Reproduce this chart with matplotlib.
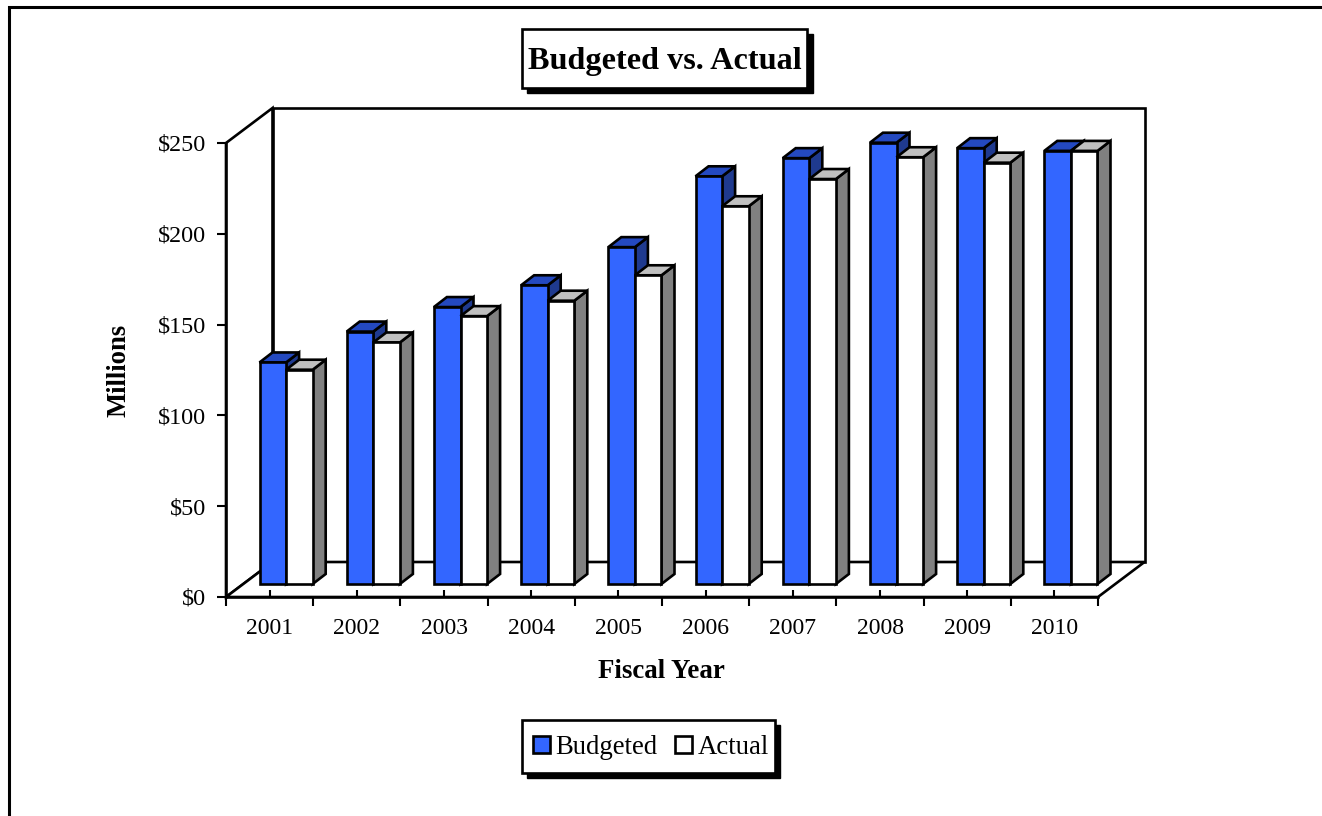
import matplotlib
matplotlib.use("Agg")
import matplotlib.pyplot as plt
from matplotlib.lines import Line2D
from matplotlib.patches import Polygon, Rectangle
from matplotlib.ticker import FixedLocator, FixedFormatter, NullFormatter

years = ["2001", "2002", "2003", "2004", "2005", "2006", "2007", "2008", "2009", "2010"]
budgeted = [122, 139, 152.5, 164.5, 185.5, 224.5, 234.5, 243, 240, 238.5]
actual = [118, 133, 147.5, 156, 170, 208, 223, 235, 232, 238.5]
value_ticks = [0, 50, 100, 150, 200, 250]
value_labels = ["$0", "$50", "$100", "$150", "$200", "$250"]

W, H = 1322, 816
plt.rcParams["font.family"] = ["Liberation Serif", "DejaVu Serif"]
fig = plt.figure(figsize=(W / 100, H / 100), dpi=100, facecolor="white")


def frac_box(x0, y0, x1, y1):
    """Pixel box (y measured from the top) to figure fractions."""
    return [x0 / W, 1 - y1 / H, (x1 - x0) / W, (y1 - y0) / H]


# Front plane of the oblique box is the real axes.
LEFT, RIGHT, TOP, BOTTOM = 226, 1098, 143, 597
ax = fig.add_axes(frac_box(LEFT, TOP, RIGHT, BOTTOM))
ax.set_xlim(0, len(years))
ax.set_ylim(0, 250)
ax.patch.set_visible(False)
for side in ("top", "right"):
    ax.spines[side].set_visible(False)
for side in ("left", "bottom"):
    ax.spines[side].set_linewidth(1.8)

PX = len(years) / (RIGHT - LEFT)
PY = 250 / (BOTTOM - TOP)
LW = 1.9


def project(x, y, dx_px, dy_px):
    """Shift a data point by a screen offset, giving the oblique depth."""
    return (x + dx_px * PX, y + dy_px * PY)


def poly(points, face, z, lw=LW):
    ax.add_patch(Polygon(points, closed=True, facecolor=face, edgecolor="black",
                         linewidth=lw, joinstyle="miter", zorder=z, clip_on=False))


# Wall and floor of the box
DEPTH_X, DEPTH_Y = 46.5, 35
n = len(years)
poly([(0, 0), (0, 250), project(0, 250, DEPTH_X, DEPTH_Y), project(0, 0, DEPTH_X, DEPTH_Y)], "white", 1)
poly([project(0, 0, DEPTH_X, DEPTH_Y), project(0, 250, DEPTH_X, DEPTH_Y),
      project(n, 250, DEPTH_X, DEPTH_Y), project(n, 0, DEPTH_X, DEPTH_Y)], "white", 1)
poly([(0, 0), (n, 0), project(n, 0, DEPTH_X, DEPTH_Y), project(0, 0, DEPTH_X, DEPTH_Y)], "white", 1)

# Bars sit a little way into the box
BAR_X, BAR_Y = 16.5, 13
BAR_DX, BAR_DY = 13, 10
GAP = 0.195
BAR_W = 0.305


def draw_bar(x0, value, front, top, side, z):
    x1 = x0 + BAR_W
    base = lambda x, y, dx=0, dy=0: project(x, y, BAR_X + dx, BAR_Y + dy)
    poly([base(x1, 0), base(x1, value), base(x1, value, BAR_DX, BAR_DY), base(x1, 0, BAR_DX, BAR_DY)], side, z)
    poly([base(x0, value), base(x1, value), base(x1, value, BAR_DX, BAR_DY), base(x0, value, BAR_DX, BAR_DY)], top, z)
    poly([base(x0, 0), base(x1, 0), base(x1, value), base(x0, value)], front, z)


# The Actual bar of each pair stands in front of the Budgeted side face.
for i, (b, a) in enumerate(zip(budgeted, actual)):
    draw_bar(i + GAP, b, "#3366FF", "#2449C0", "#1F3A8F", 3 + i * 2)
    draw_bar(i + GAP + BAR_W, a, "white", "#C0C0C0", "#808080", 4 + i * 2)

# Ticks
ax.xaxis.set_major_locator(FixedLocator(range(n + 1)))
ax.xaxis.set_major_formatter(NullFormatter())
ax.xaxis.set_minor_locator(FixedLocator([i + 0.5 for i in range(n)]))
ax.xaxis.set_minor_formatter(FixedFormatter(years))
ax.tick_params(axis="x", which="major", direction="out", length=6.5, width=1.5)
ax.tick_params(axis="x", which="minor", direction="in", length=5, width=1.5, pad=15, labelsize=17)
ax.set_yticks(value_ticks, value_labels)
ax.tick_params(axis="y", which="major", direction="out", length=6.5, width=1.5, pad=8, labelsize=17.4)

# Axis titles
fig.text(119 / W, 1 - 370 / H, "Millions", rotation=90, ha="center", va="center",
         fontsize=19.2, fontweight="bold")
fig.text(661.5 / W, 1 - 671 / H, "Fiscal Year", ha="center", va="center",
         fontsize=19.4, fontweight="bold")


def shadow_box(x0, y0, x1, y1, off):
    fig.add_artist(Rectangle(((x0 + off) / W, 1 - (y1 + off) / H), (x1 - x0) / W, (y1 - y0) / H,
                             transform=fig.transFigure, facecolor="black", edgecolor="black", linewidth=1))
    fig.add_artist(Rectangle((x0 / W, 1 - y1 / H), (x1 - x0) / W, (y1 - y0) / H,
                             transform=fig.transFigure, facecolor="white", edgecolor="black", linewidth=1.9))


# Outer frame: only the top and left rules fall inside the canvas
fig.add_artist(Line2D([9 / W, 9 / W, 1], [0, 1 - 7 / H, 1 - 7 / H], transform=fig.transFigure,
                      color="black", linewidth=2.2, solid_joinstyle="miter"))

# Title box
shadow_box(521.5, 28.5, 807, 87.5, 5.5)
fig.text(664.5 / W, 1 - 61 / H, "Budgeted vs. Actual", ha="center", va="center",
         fontsize=23.2, fontweight="bold")

# Legend box
shadow_box(521.5, 720, 774.5, 773, 5)
for x0, color in ((532.5, "#3366FF"), (675, "white")):
    fig.add_artist(Rectangle((x0 / W, 1 - 753 / H), 17 / W, 17 / H, transform=fig.transFigure,
                             facecolor=color, edgecolor="black", linewidth=1.9))
fig.text(555 / W, 1 - 748 / H, "Budgeted", ha="left", va="center", fontsize=19.3)
fig.text(698 / W, 1 - 748 / H, "Actual", ha="left", va="center", fontsize=19.3)

fig.savefig("out.png", dpi=100, facecolor="white")
